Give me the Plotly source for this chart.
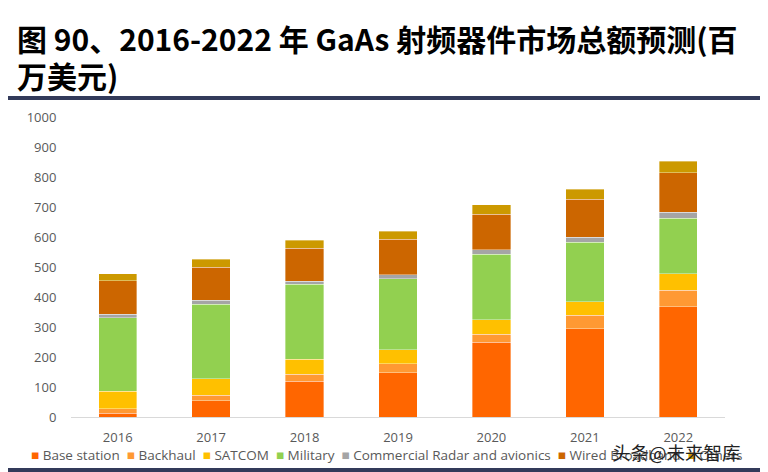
import plotly.graph_objects as go

years = ["2016", "2017", "2018", "2019", "2020", "2021", "2022"]
series_names = ["Base station", "Backhaul", "SATCOM", "Military",
                "Commercial Radar and avionics", "Wired Broadband", "Others"]
base_station = [12, 54, 120, 147, 249, 294, 368]
backhaul = [16, 18, 23, 31, 27, 45, 55]
satcom = [58, 55, 50, 46, 48, 45, 55]
military = [245, 249, 249, 237, 219, 198, 184]
radar = [12, 14, 10, 13, 14, 17, 20]
wired = [111, 110, 111, 119, 119, 127, 132]
others = [23, 26, 27, 27, 32, 33, 38]
series_values = [base_station, backhaul, satcom, military, radar, wired, others]
colors = ["#FF6600", "#FF9933", "#FFC000", "#92D050", "#A5A5A5", "#CC6600", "#CC9900"]

title_line1 = "图 90、2016-2022 年 GaAs 射频器件市场总额预测(百"
title_line2 = "万美元)"
watermark = "头条@未来智库"

# page body has an 8px margin; figure is sized to fit the 768x472 window
OFF = 8
W, H = 768 - OFF, 472 - OFF
# plot area in page pixels: x 71..725, y 117..417
ML, MR, MT, MB = 71 - OFF, W - (725 - OFF), 117 - OFF, H - (417 - OFF)
PW, PH = W - ML - MR, H - MT - MB


def px_x(p):
    return (p - OFF - ML) / PW


def px_y(p):
    return (H - MB - (p - OFF)) / PH


fig = go.Figure()
for name, vals, col in zip(series_names, series_values, colors):
    fig.add_trace(go.Bar(
        x=years, y=vals, name=name, showlegend=False,
        marker=dict(color=col, line=dict(color="rgba(255,255,255,0.6)", width=0.6)),
    ))

legend_text = "&nbsp;&nbsp;".join(
    f"<span style='color:{c}'>■</span>&nbsp;{n}" for n, c in zip(series_names, colors)
)

tick_font = dict(family="Open Sans, Liberation Sans, sans-serif", size=13, color="#595959")
title_font = dict(family="Noto Sans CJK SC, sans-serif", size=30, color="#000000")

fig.update_layout(
    width=W, height=H,
    margin=dict(l=ML, r=MR, t=MT, b=MB),
    barmode="stack",
    bargap=0.59,
    paper_bgcolor="white",
    plot_bgcolor="white",
    showlegend=False,
    xaxis=dict(
        type="category", showgrid=False, zeroline=False,
        showline=True, linecolor="#D9D9D9", linewidth=1,
        ticks="outside", ticklen=8, tickcolor="rgba(0,0,0,0)",
        tickfont=tick_font,
    ),
    yaxis=dict(
        range=[0, 1000], dtick=100, showgrid=False, zeroline=False,
        showline=False, ticks="outside", ticklen=11, tickcolor="rgba(0,0,0,0)",
        tickfont=tick_font,
    ),
    shapes=[
        dict(type="rect", xref="paper", yref="paper",
             x0=px_x(0), x1=px_x(768), y0=px_y(100), y1=px_y(96),
             fillcolor="#323A5A", line=dict(width=0)),
        dict(type="rect", xref="paper", yref="paper",
             x0=px_x(0), x1=px_x(768), y0=px_y(472), y1=px_y(468),
             fillcolor="#323A5A", line=dict(width=0)),
    ],
    annotations=[
        dict(text=f"<b>{title_line1}</b>", xref="paper", yref="paper",
             x=px_x(15), y=px_y(38), xanchor="left", yanchor="middle",
             showarrow=False, font=title_font),
        dict(text=f"<b>{title_line2}</b>", xref="paper", yref="paper",
             x=px_x(15), y=px_y(75), xanchor="left", yanchor="middle",
             showarrow=False, font=title_font),
        dict(text=legend_text, xref="paper", yref="paper",
             x=px_x(386), y=px_y(455), xanchor="center", yanchor="middle",
             showarrow=False,
             font=dict(family="Open Sans, Liberation Sans, sans-serif", size=13.5, color="#595959")),
        dict(text=watermark, xref="paper", yref="paper",
             x=px_x(676), y=px_y(452), xanchor="center", yanchor="middle",
             showarrow=False,
             font=dict(family="Noto Sans CJK SC, sans-serif", size=18.5, color="#222222")),
    ],
)

fig.write_html("out.html")
